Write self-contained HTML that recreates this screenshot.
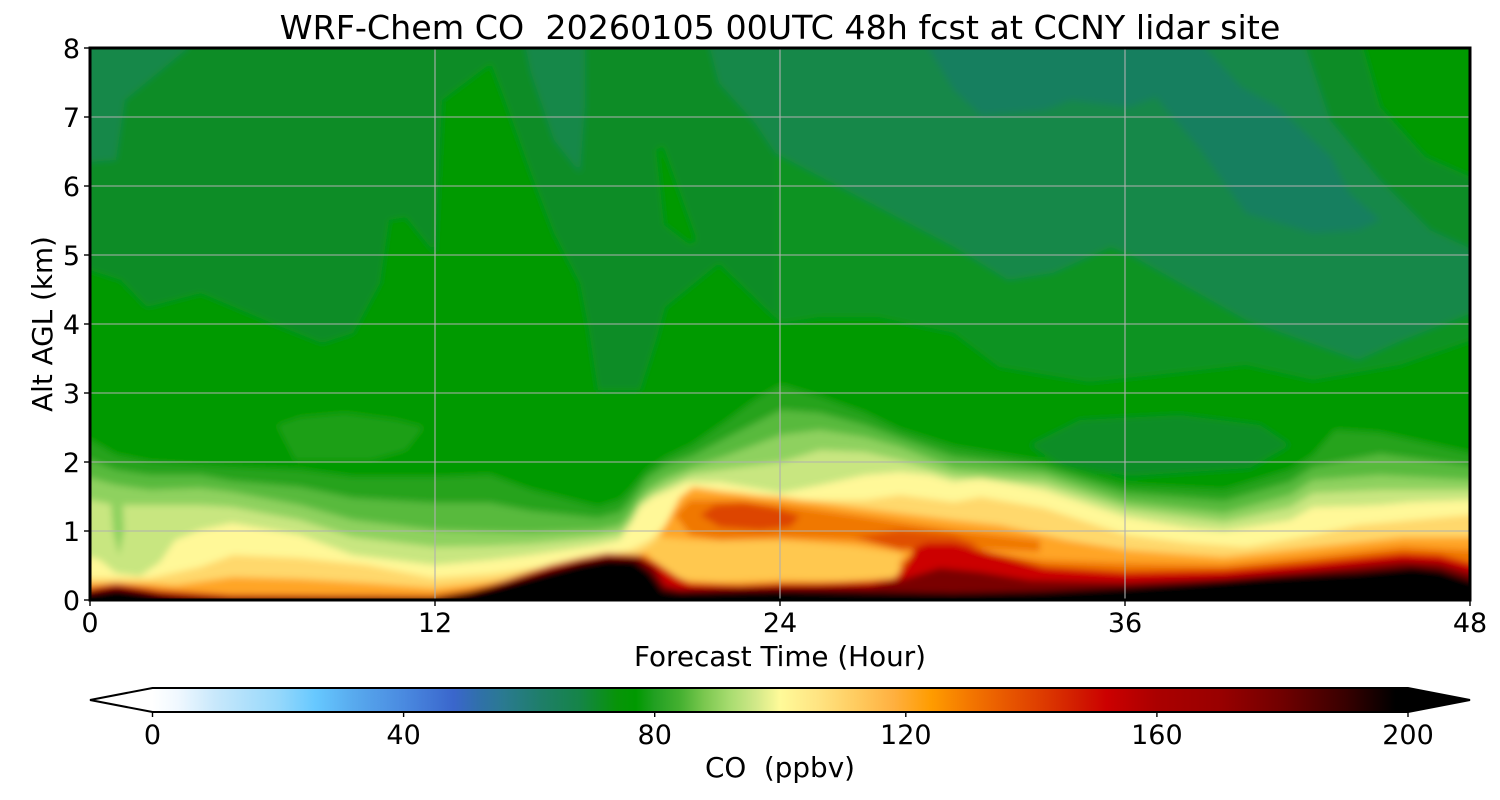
<!DOCTYPE html>
<html>
<head>
<meta charset="utf-8">
<style>
html,body{margin:0;padding:0;background:#fff;}
svg{display:block;}
text{font-family:"DejaVu Sans","Liberation Sans",sans-serif;fill:#000;}
</style>
</head>
<body>
<svg width="1500" height="800" viewBox="0 0 1500 800" xmlns="http://www.w3.org/2000/svg">
<defs>
  <clipPath id="plot"><rect x="90" y="48" width="1380" height="552"/></clipPath>
  <filter id="blur" x="-5%" y="-5%" width="110%" height="110%">
    <feGaussianBlur stdDeviation="3.5"/>
  </filter>
  <linearGradient id="cb" x1="152.5" y1="0" x2="1408" y2="0" gradientUnits="userSpaceOnUse">
    <stop offset="0" stop-color="#ffffff"/>
    <stop offset="0.02" stop-color="#f0f8ff"/>
    <stop offset="0.05" stop-color="#c8e8fb"/>
    <stop offset="0.10" stop-color="#96d8fb"/>
    <stop offset="0.13" stop-color="#66c8ff"/>
    <stop offset="0.16" stop-color="#58aaee"/>
    <stop offset="0.20" stop-color="#4a8ae0"/>
    <stop offset="0.24" stop-color="#3a66cc"/>
    <stop offset="0.26" stop-color="#3070aa"/>
    <stop offset="0.28" stop-color="#2a7a90"/>
    <stop offset="0.31" stop-color="#1e7e68"/>
    <stop offset="0.34" stop-color="#158448"/>
    <stop offset="0.37" stop-color="#079408"/>
    <stop offset="0.385" stop-color="#009900"/>
    <stop offset="0.40" stop-color="#22a022"/>
    <stop offset="0.42" stop-color="#44b030"/>
    <stop offset="0.44" stop-color="#7cc850"/>
    <stop offset="0.46" stop-color="#a8dc70"/>
    <stop offset="0.48" stop-color="#d0e888"/>
    <stop offset="0.50" stop-color="#fffa99"/>
    <stop offset="0.53" stop-color="#ffe482"/>
    <stop offset="0.56" stop-color="#ffcc60"/>
    <stop offset="0.59" stop-color="#ffb040"/>
    <stop offset="0.62" stop-color="#ff9c00"/>
    <stop offset="0.65" stop-color="#f47800"/>
    <stop offset="0.68" stop-color="#e85800"/>
    <stop offset="0.71" stop-color="#dd3a00"/>
    <stop offset="0.74" stop-color="#d01800"/>
    <stop offset="0.76" stop-color="#cc0000"/>
    <stop offset="0.80" stop-color="#aa0000"/>
    <stop offset="0.85" stop-color="#990000"/>
    <stop offset="0.90" stop-color="#700000"/>
    <stop offset="0.95" stop-color="#380000"/>
    <stop offset="0.99" stop-color="#000000"/>
    <stop offset="1" stop-color="#000000"/>
  </linearGradient>
</defs>

<!-- Title -->
<text x="780" y="39" font-size="33.3" text-anchor="middle" style="white-space:pre">WRF-Chem CO  20260105 00UTC 48h fcst at CCNY lidar site</text>

<!-- Contour field -->
<g clip-path="url(#plot)">
 <g filter="url(#blur)">
  <rect x="60" y="20" width="1440" height="600" fill="#0b8c27"/>
  <!-- upper teal / green patches -->
  <path fill="#13884a" d="M60,30 L188,30 L188,48 L125,100 L116,160 L90,162 L60,162 Z"/>
  <path fill="#13884a" d="M522,30 L585,30 L585,107 L580,173 L554,140 L531,73 Z"/>
  <path fill="#13884a" d="M705,30 L1300,30 L1330,120 L1380,180 L1430,230 L1500,262 L1500,313 L1472,313 L1403,340 L1358,360 L1246,320 L1134,257 L1111,247 L1053,273 L1008,280 L954,247 L775,153 L755,123 L719,83 Z"/>
  <path fill="#039a05" d="M1358,30 L1500,30 L1500,190 L1425,157 L1380,107 Z"/>
  <path fill="#177f5e" d="M918,30 L1205,30 L1205,48 L1241,87 L1277,107 L1331,157 L1349,193 L1380,220 L1358,230 L1313,233 L1246,213 L1201,150 L1156,97 L1129,107 L1071,100 L1044,110 L981,115 L954,90 Z"/>
  <path fill="#089322" d="M775,153 L954,247 L1008,280 L1053,273 L1111,247 L1134,257 L1246,320 L1358,360 L1403,340 L1472,313 L1500,313 L1500,620 L775,620 Z"/>
  <path fill="#039a05" d="M775,333 L820,317 L878,317 L954,333 L999,367 L1089,382 L1156,375 L1246,365 L1313,380 L1400,365 L1472,340 L1500,340 L1500,620 L775,620 Z"/>
  <path fill="#039a05" d="M60,268 L90,270 L121,280 L147,307 L201,293 L272,323 L322,343 L353,333 L380,283 L389,220 L406,217 L435,253 L442,100 L491,63 L505,100 L531,173 L554,233 L580,283 L589,330 L598,390 L640,390 L656,340 L665,307 L719,263 L781,323 L820,317 L820,620 L60,620 Z"/>
  <path fill="#039a05" d="M656,150 L663,145 L697,240 L690,245 L664,225 Z"/>
  <path fill="#1a9f18" d="M277,425 L300,417 L345,413 L397,420 L424,427 L406,450 L371,460 L295,460 Z"/>
  <path fill="#0a8d28" d="M1030,445 L1080,420 L1180,415 L1260,425 L1290,445 L1250,468 L1130,476 L1060,465 Z"/>

  <!-- A level (80) -->
  <path fill="#25a31e" d="M60,440 L90,440 L116,455 L150,462 L200,465 L232,467 L300,470 L353,477 L435,477 L490,475 L531,490 L598,507 L620,500 L630,490 L647,470 L665,458 L692,445 L728,420 L755,400 L781,385 L820,397 L865,413 L900,430 L954,447 L1044,462 L1127,485 L1224,490 L1290,470 L1313,455 L1335,430 L1380,433 L1470,453 L1500,453 L1500,620 L60,620 Z"/>
  <!-- A2 (85) -->
  <path fill="#58ba3c" d="M60,460 L90,460 L116,470 L150,475 L200,475 L232,481 L300,487 L353,498 L435,503 L490,503 L531,511 L598,518 L620,512 L630,501 L647,478 L665,466 L692,456 L728,437 L781,410 L820,413 L865,425 L900,438 L954,457 L1044,468 L1127,493 L1224,501 L1290,482 L1313,467 L1380,454 L1470,466 L1500,466 L1500,620 L60,620 Z"/>
  <!-- B (90) -->
  <path fill="#8ed15e" d="M60,478 L90,478 L116,485 L150,490 L200,488 L232,492 L300,505 L353,520 L435,530 L490,532 L531,533 L598,530 L620,525 L630,513 L640,498 L647,490 L665,478 L692,467 L728,455 L781,435 L820,430 L865,437 L900,447 L954,468 L1044,475 L1127,502 L1224,513 L1290,495 L1313,480 L1380,475 L1470,480 L1500,480 L1500,620 L60,620 Z"/>
  <!-- B2 (95) -->
  <path fill="#c8e680" d="M60,500 L90,500 L116,505 L150,505 L200,505 L232,507 L300,520 L353,537 L435,547 L490,546 L531,544 L598,537 L620,533 L630,522 L640,503 L653,493 L670,484 L692,474 L728,469 L781,462 L820,450 L865,452 L900,460 L954,476 L1044,483 L1127,509 L1224,522 L1290,507 L1313,493 L1380,490 L1470,490 L1500,490 L1500,620 L60,620 Z"/>
  <!-- green tongue near hour 1 -->
  <path fill="#8ed15e" d="M110,490 L122,490 L124,530 L119,556 L113,530 Z"/>
  <!-- C (100) -->
  <path fill="#fff898" d="M60,557 L90,557 L100,560 L116,573 L140,576 L160,562 L175,540 L200,530 L232,523 L300,535 L353,555 L435,565 L490,560 L531,555 L598,545 L620,540 L633,520 L640,507 L653,497 L670,490 L687,482 L720,482 L781,493 L820,485 L865,475 L900,472 L930,475 L954,482 L981,478 L1044,490 L1127,517 L1190,528 L1224,531 L1290,520 L1313,507 L1357,506 L1380,505 L1412,502 L1470,500 L1500,500 L1500,620 L60,620 Z"/>
  <!-- CD (110) -->
  <path fill="#ffd86c" d="M60,578 L150,578 L200,567 L233,555 L300,558 L367,565 L433,578 L490,574 L550,566 L600,556 L630,550 L650,540 L670,520 L685,500 L700,490 L740,492 L781,500 L820,500 L865,500 L900,495 L954,502 L981,497 L1044,508 L1127,535 L1190,543 L1246,547 L1313,535 L1357,525 L1412,520 L1470,515 L1500,515 L1500,620 L60,620 Z"/>
  <!-- D (120) -->
  <path fill="#ffa526" d="M60,583 L150,583 L175,585 L233,577 L300,579 L367,583 L433,588 L490,582 L550,574 L600,565 L630,560 L655,545 L668,520 L680,497 L693,487 L740,494 L780,497 L853,507 L954,520 L1000,525 L1066,540 L1127,550 L1224,557 L1313,547 L1403,537 L1470,537 L1500,537 L1500,620 L60,620 Z"/>
  <!-- lighter pocket under blob -->
  <path fill="#ffc850" d="M645,550 L660,537 L690,540 L720,541 L781,540 L853,546 L900,553 L912,565 L900,578 L840,581 L781,580 L720,582 L680,580 L660,570 Z"/>
  <!-- D dark -->
  <path fill="#f07800" d="M675,515 L690,500 L740,500 L781,505 L853,515 L954,530 L1040,540 L1040,552 L954,548 L853,540 L781,538 L720,540 L690,535 Z"/>
  <path fill="#f07800" d="M900,560 L954,548 L1044,560 L1127,563 L1224,565 L1313,556 L1403,546 L1470,550 L1500,550 L1500,620 L900,620 Z"/>
  <!-- core -->
  <path fill="#dd4400" d="M700,515 L715,505 L745,503 L775,508 L800,516 L790,527 L760,530 L720,527 Z"/>
  <path fill="#e05000" d="M853,538 L900,530 L954,535 L980,545 L954,550 L900,550 Z"/>
  <!-- E (150) -->
  <path fill="#cc0000" d="M60,588 L90,588 L116,583 L160,590 L230,595 L433,596 L470,590 L490,585 L520,575 L550,565 L580,558 L607,553 L640,555 L655,562 L677,577 L690,583 L740,585 L781,583 L820,583 L870,581 L895,578 L905,565 L915,548 L927,543 L954,543 L999,555 L1044,567 L1127,572 L1224,570 L1313,562 L1403,553 L1440,555 L1470,563 L1500,563 L1500,620 L60,620 Z"/>
  <!-- EF (175) -->
  <path fill="#7a0000" d="M60,591 L90,591 L116,587 L160,594 L230,598 L433,598 L470,592 L490,588 L520,578 L550,569 L580,561 L607,556 L640,557 L655,568 L665,585 L680,589 L781,587 L870,586 L900,580 L940,568 L980,572 L1030,580 L1127,582 L1224,578 L1313,570 L1403,561 L1440,563 L1470,572 L1500,572 L1500,620 L60,620 Z"/>
  <!-- F (black) -->
  <path fill="#000000" d="M60,593 L90,593 L116,589 L140,591 L175,597 L230,600 L433,599 L470,592 L487,588 L520,580 L549,572 L580,564 L607,559 L634,560 L650,572 L663,590 L680,592 L781,590 L954,593 L1044,591 L1127,587 L1190,583 L1268,577 L1357,572 L1412,567 L1440,570 L1470,580 L1500,580 L1500,620 L60,620 Z"/>
 </g>
</g>

<!-- Grid -->
<g stroke="#b0b0b0" stroke-width="1.1" fill="none">
  <line x1="435" y1="48" x2="435" y2="600"/>
  <line x1="780" y1="48" x2="780" y2="600"/>
  <line x1="1125" y1="48" x2="1125" y2="600"/>
  <line x1="90" y1="531" x2="1470" y2="531"/>
  <line x1="90" y1="462" x2="1470" y2="462"/>
  <line x1="90" y1="393" x2="1470" y2="393"/>
  <line x1="90" y1="324" x2="1470" y2="324"/>
  <line x1="90" y1="255" x2="1470" y2="255"/>
  <line x1="90" y1="186" x2="1470" y2="186"/>
  <line x1="90" y1="117" x2="1470" y2="117"/>
</g>

<!-- Axes frame -->
<rect x="90" y="48" width="1380" height="552" fill="none" stroke="#000" stroke-width="3"/>

<!-- Ticks -->
<g stroke="#000" stroke-width="1.4">
  <line x1="84" y1="600" x2="90" y2="600"/>
  <line x1="84" y1="531" x2="90" y2="531"/>
  <line x1="84" y1="462" x2="90" y2="462"/>
  <line x1="84" y1="393" x2="90" y2="393"/>
  <line x1="84" y1="324" x2="90" y2="324"/>
  <line x1="84" y1="255" x2="90" y2="255"/>
  <line x1="84" y1="186" x2="90" y2="186"/>
  <line x1="84" y1="117" x2="90" y2="117"/>
  <line x1="84" y1="48" x2="90" y2="48"/>
  <line x1="90" y1="600" x2="90" y2="606"/>
  <line x1="435" y1="600" x2="435" y2="606"/>
  <line x1="780" y1="600" x2="780" y2="606"/>
  <line x1="1125" y1="600" x2="1125" y2="606"/>
  <line x1="1470" y1="600" x2="1470" y2="606"/>
</g>

<!-- Y tick labels -->
<g font-size="27" text-anchor="end">
  <text x="80" y="610">0</text>
  <text x="80" y="541">1</text>
  <text x="80" y="472">2</text>
  <text x="80" y="403">3</text>
  <text x="80" y="334">4</text>
  <text x="80" y="265">5</text>
  <text x="80" y="196">6</text>
  <text x="80" y="127">7</text>
  <text x="80" y="58">8</text>
</g>
<!-- X tick labels -->
<g font-size="27" text-anchor="middle">
  <text x="90" y="632">0</text>
  <text x="435" y="632">12</text>
  <text x="780" y="632">24</text>
  <text x="1125" y="632">36</text>
  <text x="1470" y="632">48</text>
</g>

<!-- Axis labels -->
<text x="780" y="666" font-size="27.8" text-anchor="middle">Forecast Time (Hour)</text>
<text transform="translate(52,324) rotate(-90)" font-size="27.8" text-anchor="middle">Alt AGL (km)</text>

<!-- Colorbar -->
<rect x="152.5" y="688" width="1255.5" height="24" fill="url(#cb)"/>
<polygon points="90,700 152.5,688 152.5,712" fill="#ffffff"/>
<polygon points="1470,700 1408,688 1408,712" fill="#000000"/>
<polygon points="90,700 152.5,688 1408,688 1470,700 1408,712 152.5,712" fill="none" stroke="#000" stroke-width="2"/>
<g stroke="#000" stroke-width="1.4">
  <line x1="152.5" y1="712" x2="152.5" y2="717"/>
  <line x1="403.6" y1="712" x2="403.6" y2="717"/>
  <line x1="654.7" y1="712" x2="654.7" y2="717"/>
  <line x1="905.8" y1="712" x2="905.8" y2="717"/>
  <line x1="1156.9" y1="712" x2="1156.9" y2="717"/>
  <line x1="1408" y1="712" x2="1408" y2="717"/>
</g>
<g font-size="27" text-anchor="middle">
  <text x="152.5" y="744">0</text>
  <text x="403.6" y="744">40</text>
  <text x="654.7" y="744">80</text>
  <text x="905.8" y="744">120</text>
  <text x="1156.9" y="744">160</text>
  <text x="1408" y="744">200</text>
</g>
<text x="780" y="777" font-size="27.8" text-anchor="middle" style="white-space:pre">CO  (ppbv)</text>
</svg>
</body>
</html>
